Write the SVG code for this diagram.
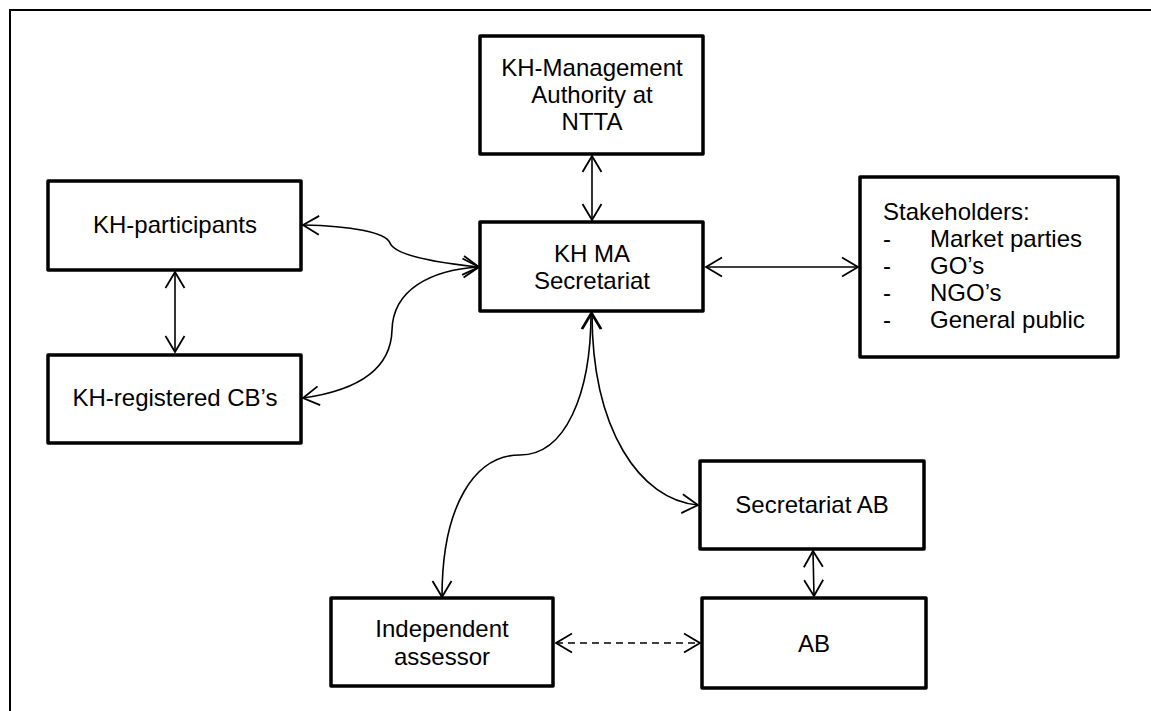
<svg xmlns="http://www.w3.org/2000/svg" width="1151" height="711" viewBox="0 0 1151 711">
<style>
.box{fill:#fff;stroke:#000;stroke-width:3.5;stroke-linejoin:round}
.t{font-family:"Liberation Sans",Arial,sans-serif;font-size:24px;fill:#000}
.c{text-anchor:middle}
.con{fill:none;stroke:#000;stroke-width:1.6}
.dash{stroke-dasharray:7 5}
</style>
<defs>
<marker id="ah" markerUnits="userSpaceOnUse" markerWidth="40" markerHeight="40" viewBox="-20 -20 40 40" refX="0" refY="0" orient="auto-start-reverse">
<path d="M-16,-9.5 L0,0 L-16,9.5" fill="none" stroke="#000" stroke-width="1.8"/>
</marker>
</defs>
<rect x="10" y="10" width="1160" height="720" fill="#fff" stroke="#000" stroke-width="2"/>
<g id="connectors">
<path class="con" d="M592,156 L592,220" marker-start="url(#ah)" marker-end="url(#ah)"/>
<path class="con" d="M175,272 L175,352" marker-start="url(#ah)" marker-end="url(#ah)"/>
<path class="con" d="M706,267 L858,267" marker-start="url(#ah)" marker-end="url(#ah)"/>
<path class="con" d="M303,225 C350,226 386,232 390,243 C395,256 440,263 479,267" marker-start="url(#ah)" marker-end="url(#ah)"/>
<path class="con" d="M303,398 C360,390 391,368 392,330 C393,290 430,270 479,267" marker-start="url(#ah)" marker-end="url(#ah)"/>
<path class="con" d="M591,313 C591,395 565,455 520,455 C475,455 442,505 442,597" marker-start="url(#ah)" marker-end="url(#ah)"/>
<path class="con" d="M592,313 C592,430 640,500 698,505" marker-start="url(#ah)" marker-end="url(#ah)"/>
<path class="con" d="M813,551 L814,596" marker-start="url(#ah)" marker-end="url(#ah)"/>
<path class="con dash" d="M556,643 L700,643" marker-start="url(#ah)" marker-end="url(#ah)"/>
</g>
<g id="node-management">
<rect class="box" x="480" y="36" width="223" height="118"/>
<text class="t c" x="592" y="76">KH-Management</text>
<text class="t c" x="592" y="103">Authority at</text>
<text class="t c" x="592" y="130">NTTA</text>
</g>
<g id="node-secretariat">
<rect class="box" x="480" y="222" width="223" height="89"/>
<text class="t c" x="592" y="262">KH MA</text>
<text class="t c" x="592" y="289">Secretariat</text>
</g>
<g id="node-participants">
<rect class="box" x="48" y="181" width="253" height="89"/>
<text class="t c" x="175" y="233">KH-participants</text>
</g>
<g id="node-registered">
<rect class="box" x="48" y="355" width="253" height="88"/>
<text class="t c" x="175" y="406">KH-registered CB’s</text>
</g>
<g id="node-stakeholders">
<rect class="box" x="860" y="177" width="258" height="180"/>
<text class="t" x="883" y="220">Stakeholders:</text>
<text class="t" x="883" y="247">-</text><text class="t" x="930" y="247">Market parties</text>
<text class="t" x="883" y="274">-</text><text class="t" x="930" y="274">GO’s</text>
<text class="t" x="883" y="301">-</text><text class="t" x="930" y="301">NGO’s</text>
<text class="t" x="883" y="328">-</text><text class="t" x="930" y="328">General public</text>
</g>
<g id="node-secretariat-ab">
<rect class="box" x="700" y="461" width="224" height="88"/>
<text class="t c" x="812" y="513">Secretariat AB</text>
</g>
<g id="node-ab">
<rect class="box" x="702" y="598" width="224" height="90"/>
<text class="t c" x="814" y="652">AB</text>
</g>
<g id="node-assessor">
<rect class="box" x="331" y="598" width="222" height="88"/>
<text class="t c" x="442" y="637">Independent</text>
<text class="t c" x="442" y="665">assessor</text>
</g>
</svg>
